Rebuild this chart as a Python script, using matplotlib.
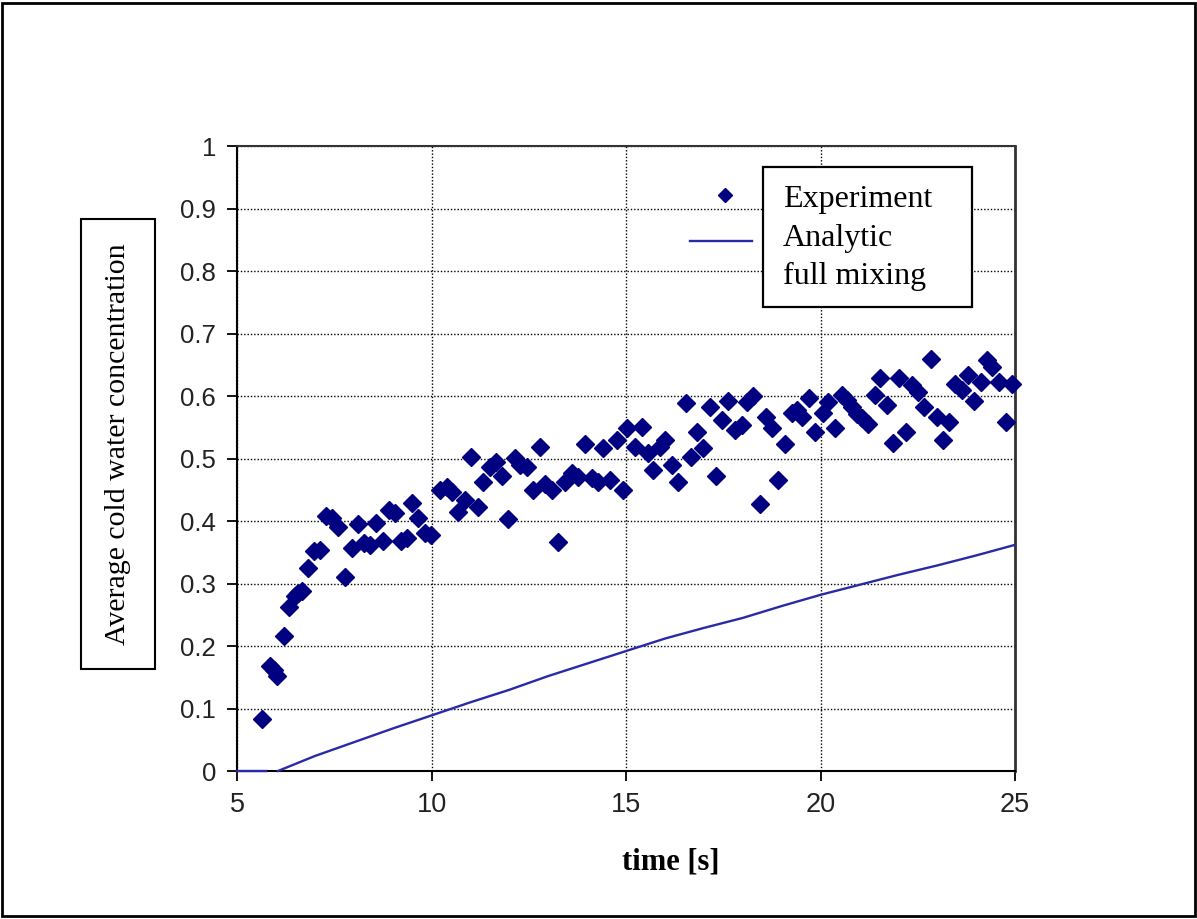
import matplotlib
matplotlib.use('Agg')
import matplotlib.pyplot as plt
from matplotlib.patches import Rectangle
import numpy as np

# experiment
time_exp = [5.64, 5.85, 5.95, 6.03, 6.21, 6.34, 6.49, 6.57, 6.67, 6.83,
            6.98, 7.13, 7.29, 7.44, 7.60, 7.78, 7.96, 8.11, 8.26, 8.42,
            8.57, 8.75, 8.91, 9.06, 9.22, 9.37, 9.50, 9.65, 9.83, 9.99,
            10.22, 10.40, 10.53, 10.68, 10.86, 11.02, 11.20, 11.32, 11.50, 11.66,
            11.81, 11.97, 12.15, 12.28, 12.46, 12.61, 12.79, 12.92, 13.10, 13.25,
            13.43, 13.61, 13.77, 13.95, 14.13, 14.28, 14.41, 14.59, 14.77, 14.92,
            15.03, 15.23, 15.41, 15.57, 15.69, 15.87, 16.00, 16.18, 16.34, 16.54,
            16.67, 16.83, 16.98, 17.16, 17.31, 17.47, 17.62, 17.80, 17.98, 18.11,
            18.26, 18.44, 18.60, 18.75, 18.91, 19.09, 19.27, 19.40, 19.52, 19.70,
            19.86, 20.06, 20.19, 20.37, 20.55, 20.68, 20.81, 20.94, 21.07, 21.22,
            21.40, 21.53, 21.71, 21.86, 22.02, 22.20, 22.35, 22.51, 22.66, 22.84,
            23.00, 23.15, 23.30, 23.46, 23.64, 23.79, 23.95, 24.13, 24.28, 24.41,
            24.59, 24.77, 24.92]
conc_exp = [0.083, 0.168, 0.162, 0.152, 0.216, 0.262, 0.280, 0.285, 0.288, 0.325,
            0.352, 0.354, 0.408, 0.405, 0.390, 0.310, 0.357, 0.395, 0.365, 0.362,
            0.397, 0.368, 0.418, 0.413, 0.368, 0.373, 0.429, 0.405, 0.381, 0.378,
            0.450, 0.455, 0.447, 0.414, 0.434, 0.503, 0.422, 0.462, 0.487, 0.494,
            0.472, 0.403, 0.501, 0.490, 0.487, 0.450, 0.518, 0.460, 0.450, 0.366,
            0.462, 0.477, 0.470, 0.523, 0.469, 0.462, 0.517, 0.466, 0.530, 0.450,
            0.549, 0.518, 0.550, 0.509, 0.482, 0.518, 0.530, 0.490, 0.462, 0.589,
            0.503, 0.542, 0.517, 0.582, 0.472, 0.562, 0.592, 0.546, 0.554, 0.590,
            0.600, 0.427, 0.566, 0.549, 0.466, 0.523, 0.573, 0.578, 0.566, 0.597,
            0.542, 0.573, 0.590, 0.549, 0.602, 0.594, 0.582, 0.572, 0.565, 0.555,
            0.602, 0.629, 0.586, 0.525, 0.629, 0.542, 0.618, 0.606, 0.582, 0.659,
            0.566, 0.530, 0.558, 0.619, 0.610, 0.634, 0.592, 0.622, 0.658, 0.646,
            0.622, 0.558, 0.619]

# analytic, full mixing (gap between the two pieces as in the picture)
time_ana = [5.0, 5.75, np.nan, 6.05, 7, 8, 9, 10, 11, 12, 12.5, 13, 14, 15,
            16, 17, 18, 19, 20, 21, 22, 23, 24, 25]
conc_ana = [0.0, 0.0, np.nan, 0.0, 0.024, 0.046, 0.068, 0.089, 0.11, 0.13, 0.141,
            0.152, 0.172, 0.192, 0.212, 0.229, 0.245, 0.264, 0.282, 0.298,
            0.314, 0.329, 0.345, 0.362]

x_ticks = [5, 10, 15, 20, 25]
y_ticks = [0, 0.1, 0.2, 0.3, 0.4, 0.5, 0.6, 0.7, 0.8, 0.9, 1]
y_labels = ['0', '0.1', '0.2', '0.3', '0.4', '0.5', '0.6', '0.7', '0.8', '0.9', '1']

navy = '#000080'
line_col = '#2a2aa8'
serif = 'Liberation Serif'
sans = 'Liberation Sans'

fig = plt.figure(figsize=(11.97, 9.19), dpi=100)
ax = fig.add_axes([0.198, 0.161, 0.65, 0.68])

ax.plot(time_ana, conc_ana, color=line_col, lw=1.7, zorder=3, clip_on=False)
ax.plot(time_exp, conc_exp, ls='none', marker='D', ms=9.5, color=navy,
        mec=navy, zorder=4, clip_on=False)

ax.set_xlim(5, 25)
ax.set_ylim(0, 1)
ax.set_xticks(x_ticks)
ax.set_xticklabels([str(v) for v in x_ticks], fontfamily=sans, fontsize=19.5)
ax.set_yticks(y_ticks)
ax.set_yticklabels(y_labels, fontfamily=sans, fontsize=18.5)
ax.tick_params(axis='both', direction='out', length=7, width=1.3, pad=8,
               colors='black', labelcolor='#222222')
ax.grid(True, color='black', lw=1.0, ls=(0, (1, 1.4)))
ax.set_axisbelow(True)
for s in ax.spines.values():
    s.set_color('black')
    s.set_linewidth(1.5)
ax.spines['top'].set_color('#333333')
ax.spines['right'].set_color('#333333')
ax.spines['right'].set_linewidth(2)

# legend drawn by hand (keys sit outside the box, like the original)
ax.add_patch(Rectangle((0.676, 0.742), 0.269, 0.224, transform=ax.transAxes,
                       fc='white', ec='black', lw=1.6, zorder=5))
ax.text(0.702, 0.914, 'Experiment', transform=ax.transAxes, fontfamily=serif,
        fontsize=23, va='center', ha='left', zorder=6)
ax.text(0.702, 0.852, 'Analytic', transform=ax.transAxes, fontfamily=serif,
        fontsize=23, va='center', ha='left', zorder=6)
ax.text(0.702, 0.792, 'full mixing', transform=ax.transAxes, fontfamily=serif,
        fontsize=23, va='center', ha='left', zorder=6)
ax.plot([0.627], [0.922], marker='D', ms=7.5, color=navy, transform=ax.transAxes,
        zorder=6, clip_on=False)
ax.plot([0.582, 0.662], [0.848, 0.848], color=line_col, lw=1.7,
        transform=ax.transAxes, zorder=6, clip_on=False)

fig.text(0.0986, 0.517, 'Average cold water concentration', rotation=90,
         fontfamily=serif, fontsize=21.5, ha='center', va='center',
         bbox=dict(boxstyle='square,pad=0.8', fc='white', ec='black', lw=1.5))
fig.text(0.5606, 0.062, 'time [s]', fontfamily=serif, fontweight='bold',
         fontsize=22, ha='center', va='center')

fig.patches.append(Rectangle((0.002, 0.003), 0.996, 0.994, transform=fig.transFigure,
                             fill=False, ec='black', lw=2))

fig.savefig('out.png', dpi=100)
